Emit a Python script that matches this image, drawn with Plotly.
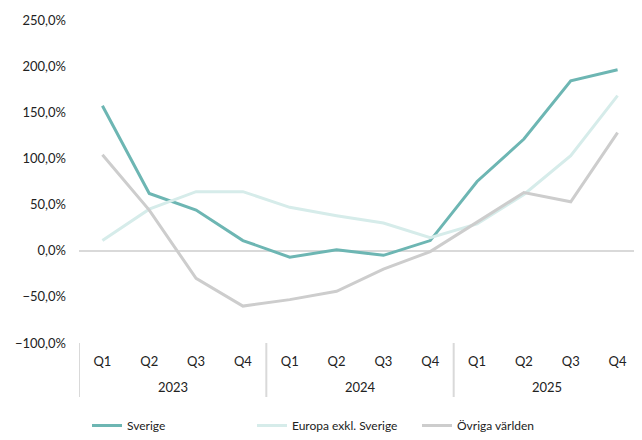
import plotly.graph_objects as go

years = ["2023", "2024", "2025"]
quarters = ["Q1", "Q2", "Q3", "Q4"] * 3

sverige = [157, 62, 44, 11, -7, 1, -5, 11, 75, 121, 184, 196]
europa = [11, 45, 64, 64, 47, 38, 30, 14, 29, 61, 103, 168]
ovriga = [104, 44, -30, -60, -53, -44, -20, -1, 31, 63, 53, 128]

series = [
    ("Sverige", sverige, "#6db6b3"),
    ("Europa exkl. Sverige", europa, "#d6ecea"),
    ("Övriga världen", ovriga, "#cdcdcd"),
]

x = list(range(len(quarters)))
plot_h = 323  # height of the plot area in px

fig = go.Figure()
for name, values, color in series:
    fig.add_trace(go.Scatter(
        x=x,
        y=values,
        name=name,
        mode="lines",
        line=dict(color=color, width=3),
    ))

# group dividers and year labels below the axis
for i in range(len(years) + 1):
    fig.add_shape(
        type="line", xref="x", yref="paper",
        x0=i * 4 - 0.5, x1=i * 4 - 0.5, y0=0, y1=-54 / plot_h,
        line=dict(color="#d9d9d9", width=2),
    )
for i, year in enumerate(years):
    fig.add_annotation(
        x=i * 4 + 1.5, y=0, xref="x", yref="paper",
        text=year, showarrow=False,
        yanchor="middle", yshift=-44,
        font=dict(size=13),
    )

# the page body has an 8px margin, so the figure is 8px smaller than the window
fig.update_layout(
    width=634,
    height=432,
    margin=dict(l=71, r=1, t=12, b=97),
    paper_bgcolor="white",
    plot_bgcolor="white",
    separators=", ",
    font=dict(family="Lato", size=13, color="#222222"),
    showlegend=True,
    legend=dict(
        orientation="h",
        xref="container",
        yref="container",
        x=0.515,
        xanchor="center",
        y=-0.012,
        yanchor="bottom",
        entrywidth=120,
        font=dict(size=12),
    ),
)
fig.update_yaxes(
    range=[-100, 250],
    dtick=50,
    tickformat=".1f",
    ticksuffix="%",
    showgrid=False,
    zeroline=True,
    zerolinecolor="#d9d9d9",
    zerolinewidth=2,
    ticklabelstandoff=12,
    automargin=False,
)
fig.update_xaxes(
    range=[-0.5, 11.5],
    tickvals=x,
    ticktext=quarters,
    showgrid=False,
    showline=False,
    zeroline=False,
    ticks="",
    ticklabelstandoff=9,
    automargin=False,
)

fig.write_html("out.html")
